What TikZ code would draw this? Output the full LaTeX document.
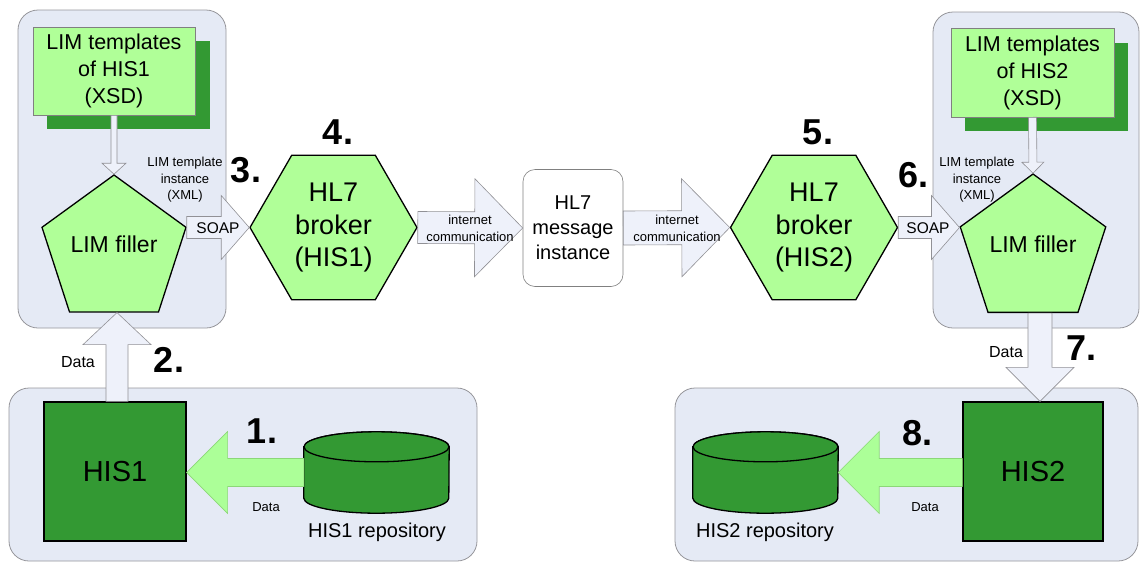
\documentclass[tikz,border=0pt]{standalone}
\usepackage{fontspec}
\setmainfont{Liberation Sans}
\usetikzlibrary{shapes.geometric,calc}
\definecolor{lgreen}{RGB}{176,255,152}
\definecolor{dgreen}{RGB}{51,153,51}
\definecolor{cfill}{RGB}{229,234,245}
\definecolor{cborder}{RGB}{150,150,155}
\definecolor{afill}{RGB}{238,241,250}
\definecolor{aborder}{RGB}{145,145,150}
\definecolor{gfill}{RGB}{172,255,152}
\definecolor{gborder}{RGB}{140,215,120}
\newcommand\blockarrow[6]{%
  \draw[#1] ($(#2)!#4!90:(#3)$) -- ($(#3)!#6!(#2)!#4!-90:(#2)$) -- ($(#3)!#6!(#2)!#5!-90:(#2)$)
    -- (#3) -- ($(#3)!#6!(#2)!#5!90:(#2)$) -- ($(#3)!#6!(#2)!#4!90:(#2)$) -- ($(#2)!#4!-90:(#3)$) -- cycle;}
\newcommand\drawcyl[1]{%
  \draw[cylstyle] ($(#1.north west)+(0,15)$) -- ($(#1.south west)+(0,-15)$)
    arc[start angle=180, end angle=360, x radius=72.5pt, y radius=15pt]
    -- ($(#1.north east)+(0,15)$)
    arc[start angle=0, end angle=180, x radius=72.5pt, y radius=15pt] -- cycle;
  \draw[cylstyle] ($(#1.north)+(0,15)$) ellipse [x radius=72.5pt, y radius=15pt];}
\tikzset{
  container/.style={draw=cborder, fill=cfill, rounded corners=20pt, line width=0.8pt},
  tmpl/.style={draw=gray, fill=lgreen, minimum width=162pt, minimum height=88pt, inner sep=0pt, align=center, font=\fontsize{21.5}{27}\selectfont, line width=0.6pt},
  shadowbox/.style={fill=dgreen, minimum width=163pt, minimum height=88pt, inner sep=0pt},
  pent/.style={regular polygon, regular polygon sides=5, minimum size=151.4pt, draw=black, line width=1.3pt, fill=lgreen, inner sep=0pt},
  hexa/.style={regular polygon, regular polygon sides=6, minimum size=167pt, draw=black, line width=1.3pt, fill=lgreen, inner sep=0pt, align=center, font=\fontsize{27}{32}\selectfont},
  hisbox/.style={draw=black, line width=1.3pt, fill=dgreen, minimum width=142pt, minimum height=139pt, inner sep=0pt, font=\fontsize{29}{34}\selectfont},
  msgbox/.style={draw=gray, rounded corners=12pt, fill=white, minimum width=100pt, minimum height=117pt, inner sep=0pt, align=center, font=\fontsize{20}{25}\selectfont, line width=0.6pt},
  cylbox/.style={minimum width=145pt, minimum height=81pt, inner sep=0pt},
  cylstyle/.style={draw=black, line width=1.3pt, fill=dgreen},
  barrow/.style={draw=aborder, fill=afill, line width=0.6pt},
  garrow/.style={draw=gborder, fill=gfill, line width=0.6pt},
  num/.style={font=\fontsize{36}{40}\selectfont\bfseries, inner sep=0pt},
  lbl/.style={align=center, inner sep=0pt},
}
\begin{document}
\begin{tikzpicture}[x=1pt,y=-1pt]
\useasboundingbox (0,0) rectangle (1140,563);
% containers
\draw[container] (18,10) rectangle (226,328);
\draw[container] (933,12) rectangle (1139,328);
\draw[container] (9,388) rectangle (477,561);
\draw[container] (675,388) rectangle (1138,561);
% templates
\node[shadowbox] (s1) at (128.5,85) {};
\node[tmpl] (t1) at (114,71) {LIM templates\\of HIS1\\(XSD)};
\node[shadowbox] (s2) at (1046.5,87) {};
\node[tmpl, minimum width=163pt, minimum height=89pt] (t2) at (1032.5,72.5) {LIM templates\\of HIS2\\(XSD)};
% LIM fillers
\node[pent] (f1) at (114,250.7) {};
\node[lbl, font=\fontsize{23}{27}\selectfont] (f1t) at (114,244) {LIM filler};
\node[pent, minimum size=153pt] (f2) at (1033,250.5) {};
\node[lbl, font=\fontsize{23}{27}\selectfont] (f2t) at (1033,244) {LIM filler};
% brokers
\node[hexa] (h1) at (333.5,227.5) {HL7\\broker\\(HIS1)};
\node[hexa] (h2) at (814,227.5) {HL7\\broker\\(HIS2)};
% message
\node[msgbox] (m) at (573,228) {HL7\\message\\instance};
% HIS boxes
\node[hisbox] (his1) at (115,471.5) {HIS1};
\node[hisbox, minimum width=140pt] (his2) at (1033,471.5) {HIS2};
% repositories
\node[cylbox] (c1) at (376.5,472.5) {};
\drawcyl{c1}
\node[cylbox] (c2) at (765.5,472.5) {};
\drawcyl{c2}
\node[lbl, font=\fontsize{20}{24}\selectfont] (c1t) at (377,532) {HIS1 repository};
\node[lbl, font=\fontsize{20}{24}\selectfont] (c2t) at (765,532) {HIS2 repository};
% arrows
\coordinate (t1s) at (t1.south);
\blockarrow{barrow}{t1s}{f1.corner 1}{3pt}{12pt}{11pt}
\coordinate (t2s) at (t2.south);
\blockarrow{barrow}{t2s}{f2.corner 1}{4pt}{11pt}{11pt}
\coordinate (a3s) at (f1.corner 5 |- h1.west);
\blockarrow{barrow}{a3s}{h1.west}{11pt}{32pt}{28pt}
\blockarrow{barrow}{h1.east}{m.west}{16pt}{49pt}{48pt}
\blockarrow{barrow}{m.east}{h2.west}{17pt}{49pt}{48pt}
\coordinate (a6e) at (f2.corner 2 |- h2.east);
\blockarrow{barrow}{h2.east}{a6e}{11pt}{32pt}{28pt}
\coordinate (a2s) at ($(his1.north)+(2,0)$);
\coordinate (a2e) at (a2s |- f1.south);
\blockarrow{barrow}{a2s}{a2e}{11pt}{34pt}{32pt}
\coordinate (a7e) at ($(his2.north)+(7,0)$);
\coordinate (a7s) at (a7e |- f2.south);
\blockarrow{barrow}{a7s}{a7e}{12pt}{34pt}{34pt}
\coordinate (a1e) at (his1.east |- c1.west);
\blockarrow{garrow}{c1.west}{a1e}{14pt}{41pt}{41pt}
\coordinate (a8s) at (his2.west |- c2.east);
\blockarrow{garrow}{a8s}{c2.east}{14pt}{41pt}{41pt}
% arrow labels
\node[lbl, font=\fontsize{13}{16.5}\selectfont] (x1) at (185,180) {LIM template\\instance\\(XML)};
\node[lbl, font=\fontsize{13}{16.5}\selectfont] (x2) at (977,180) {LIM template\\instance\\(XML)};
\node[lbl, font=\fontsize{15.5}{18}\selectfont] (soap1) at (218,228) {SOAP};
\node[lbl, font=\fontsize{15.5}{18}\selectfont] (soap2) at (928,228) {SOAP};
\node[lbl, font=\fontsize{13}{17}\selectfont] (ic1) at (470,228) {internet\\communication};
\node[lbl, font=\fontsize{13}{17}\selectfont] (ic2) at (677,228) {internet\\communication};
\node[lbl, font=\fontsize{16}{18}\selectfont] (d2) at (78,362) {Data};
\node[lbl, font=\fontsize{16}{18}\selectfont] (d7) at (1006,352) {Data};
\node[lbl, font=\fontsize{13}{16}\selectfont] (d1) at (266,507) {Data};
\node[lbl, font=\fontsize{13}{16}\selectfont] (d8) at (925,507) {Data};
% step numbers
\node[num] (n1) at (262,431) {1.};
\node[num] (n2) at (169,360) {2.};
\node[num] (n3) at (246,170) {3.};
\node[num] (n4) at (338,132) {4.};
\node[num] (n5) at (818,132) {5.};
\node[num] (n6) at (913,175) {6.};
\node[num] (n7) at (1081,348) {7.};
\node[num] (n8) at (917,433) {8.};
\end{tikzpicture}
\end{document}
